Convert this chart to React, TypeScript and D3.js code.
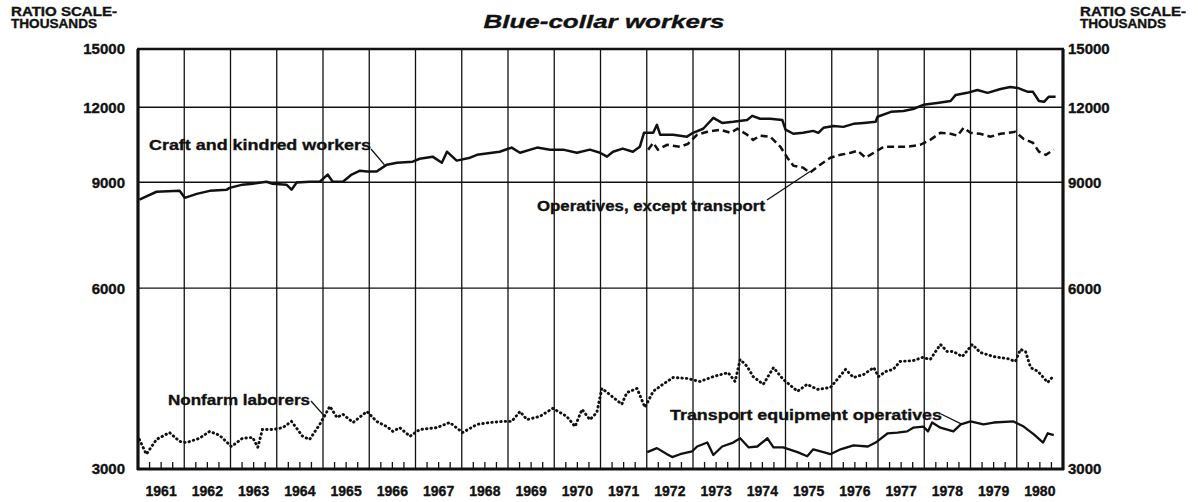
import React from 'react';
import * as d3 from 'd3';

const yearLabels = ['1961','1962','1963','1964','1965','1966','1967','1968','1969','1970','1971','1972','1973','1974','1975','1976','1977','1978','1979','1980'];
const yTicks = [15000, 12000, 9000, 6000, 3000];

const craft: [number, number][] = [
  [1961.03,8420],[1961.40,8680],[1961.90,8710],[1962.01,8480],[1962.27,8610],[1962.55,8710],[1962.92,8750],[1962.98,8810],
  [1963.26,8920],[1963.48,8950],[1963.78,9020],[1963.91,8950],[1964.21,8920],[1964.32,8750],[1964.43,8990],[1964.71,9020],
  [1964.93,9020],[1965.10,9270],[1965.21,9020],[1965.43,9020],[1965.62,9270],[1965.80,9410],[1965.95,9380],[1966.16,9380],
  [1966.38,9630],[1966.60,9700],[1966.94,9740],[1967.09,9850],[1967.37,9930],[1967.57,9700],[1967.68,10120],[1967.89,9780],
  [1968.18,9890],[1968.33,10000],[1968.82,10120],[1969.08,10280],[1969.26,10080],[1969.63,10280],[1969.91,10200],[1970.19,10200],
  [1970.49,10080],[1970.77,10200],[1970.99,10080],[1971.14,9930],[1971.27,10120],[1971.48,10240],[1971.70,10120],[1971.85,10310],
  [1971.94,10880],[1972.14,10880],[1972.22,11220],[1972.29,10800],[1972.57,10800],[1972.87,10720],[1973.00,10880],[1973.22,11050],
  [1973.44,11520],[1973.63,11300],[1973.87,11350],[1974.17,11430],[1974.28,11610],[1974.45,11480],[1974.67,11480],[1974.93,11430],
  [1975.00,11010],[1975.17,10840],[1975.38,10880],[1975.60,10960],[1975.71,10880],[1975.82,11090],[1976.04,11170],[1976.25,11130],
  [1976.47,11260],[1976.69,11300],[1976.95,11350],[1976.99,11570],[1977.28,11790],[1977.55,11830],[1977.76,11920],[1977.98,12110],
  [1978.28,12200],[1978.57,12290],[1978.68,12580],[1978.93,12680],[1979.15,12820],[1979.37,12680],[1979.65,12870],[1979.86,12970],
  [1980.02,12920],[1980.24,12730],[1980.35,12730],[1980.48,12290],[1980.59,12250],[1980.69,12490],[1980.84,12490]
];

const operatives: [number, number][] = [
  [1972.03,10200],[1972.14,10470],[1972.24,10200],[1972.44,10390],[1972.72,10310],[1972.89,10430],[1973.09,10800],[1973.31,10920],
  [1973.59,11010],[1973.81,10880],[1973.96,11050],[1974.17,10800],[1974.30,10590],[1974.45,10760],[1974.67,10720],[1974.89,10310],
  [1975.04,9890],[1975.17,9590],[1975.38,9520],[1975.53,9340],[1975.75,9630],[1975.97,9890],[1976.19,10000],[1976.41,10080],
  [1976.56,10160],[1976.73,9890],[1976.91,10080],[1977.12,10310],[1977.33,10310],[1977.63,10310],[1977.91,10390],[1978.13,10590],
  [1978.35,10880],[1978.57,10840],[1978.72,10760],[1978.85,11090],[1979.00,10880],[1979.21,10840],[1979.43,10720],[1979.65,10840],
  [1979.97,10920],[1980.15,10630],[1980.35,10470],[1980.48,10120],[1980.63,10000],[1980.80,10200]
];

const laborers: [number, number][] = [
  [1961.03,3360],[1961.18,3175],[1961.40,3360],[1961.68,3450],[1961.90,3335],[1962.05,3320],[1962.33,3375],[1962.55,3465],
  [1962.76,3415],[1963.02,3270],[1963.26,3375],[1963.48,3385],[1963.59,3260],[1963.69,3490],[1963.91,3490],[1964.13,3515],
  [1964.32,3600],[1964.56,3400],[1964.71,3360],[1964.93,3560],[1965.15,3815],[1965.30,3655],[1965.43,3700],[1965.65,3585],
  [1965.95,3740],[1966.16,3600],[1966.38,3530],[1966.51,3465],[1966.66,3515],[1966.88,3400],[1967.09,3490],[1967.46,3515],
  [1967.74,3585],[1968.02,3450],[1968.33,3560],[1968.61,3585],[1968.89,3600],[1969.08,3600],[1969.26,3740],[1969.41,3625],
  [1969.69,3670],[1969.97,3785],[1970.27,3670],[1970.45,3530],[1970.60,3770],[1970.77,3625],[1970.92,3725],[1971.03,4085],
  [1971.20,3990],[1971.46,3845],[1971.57,4020],[1971.79,4085],[1971.96,3800],[1972.14,4040],[1972.35,4150],[1972.57,4260],
  [1972.87,4245],[1973.15,4195],[1973.44,4275],[1973.76,4340],[1973.91,4195],[1974.02,4565],[1974.17,4445],[1974.30,4275],
  [1974.52,4150],[1974.74,4425],[1974.95,4230],[1975.26,4040],[1975.47,4150],[1975.69,4070],[1975.97,4100],[1976.12,4230],
  [1976.30,4395],[1976.47,4260],[1976.69,4310],[1976.91,4425],[1977.01,4275],[1977.17,4360],[1977.33,4395],[1977.48,4530],
  [1977.76,4545],[1977.96,4600],[1978.13,4565],[1978.35,4835],[1978.50,4705],[1978.63,4705],[1978.82,4615],[1979.04,4835],
  [1979.21,4690],[1979.50,4615],[1979.80,4580],[1979.97,4530],[1980.08,4745],[1980.19,4705],[1980.30,4425],[1980.46,4360],
  [1980.67,4180],[1980.78,4275]
];

const transport: [number, number][] = [
  [1972.01,3200],[1972.22,3250],[1972.44,3175],[1972.55,3140],[1972.72,3175],[1972.98,3210],[1973.09,3270],[1973.31,3320],
  [1973.44,3165],[1973.63,3270],[1973.87,3320],[1974.02,3375],[1974.20,3260],[1974.39,3270],[1974.61,3375],[1974.74,3260],
  [1974.95,3260],[1975.26,3200],[1975.47,3150],[1975.60,3235],[1975.82,3200],[1975.97,3175],[1976.19,3235],[1976.47,3285],
  [1976.78,3270],[1976.95,3320],[1977.21,3440],[1977.42,3450],[1977.63,3465],[1977.76,3515],[1977.98,3530],[1978.08,3465],
  [1978.17,3585],[1978.35,3515],[1978.63,3465],[1978.79,3560],[1979.00,3600],[1979.28,3560],[1979.50,3585],[1979.93,3600],
  [1980.15,3530],[1980.37,3425],[1980.57,3320],[1980.67,3440],[1980.80,3415]
];

const W = 1198, H = 502;
const L = 138, R = 1063, T = 49, B = 469;
const FONT = '"Liberation Sans", Arial, Helvetica, sans-serif';

export default function App() {
  const x = d3.scaleLinear().domain([1961, 1981]).range([L, R]);
  const y = d3.scaleLog().domain([3000, 15000]).range([B, T]);
  const line = d3.line<[number, number]>().x(d => x(d[0])).y(d => y(d[1])).curve(d3.curveLinear);

  const years = d3.range(1961, 1982);
  const quarters = d3.range(1961, 1981, 0.25).filter(q => q % 1 !== 0);
  const ink = '#111';
  const heavy = { stroke: ink, strokeWidth: 0.35 };

  return (
    <svg width={W} height={H} style={{ position: 'absolute', left: 0, top: 0, background: '#fff' }}
      fontFamily={FONT} fontWeight="bold">
      <rect x={0} y={0} width={W} height={H} fill="#fff" />
      {/* headers */}
      <text x={11} y={16} fontSize={12.5} textLength={106} lengthAdjust="spacingAndGlyphs" fill={ink} {...heavy}>RATIO SCALE-</text>
      <text x={11} y={28} fontSize={12.5} textLength={86} lengthAdjust="spacingAndGlyphs" fill={ink} {...heavy}>THOUSANDS</text>
      <text x={1080} y={16} fontSize={12.5} textLength={106} lengthAdjust="spacingAndGlyphs" fill={ink} {...heavy}>RATIO SCALE-</text>
      <text x={1080} y={28} fontSize={12.5} textLength={86} lengthAdjust="spacingAndGlyphs" fill={ink} {...heavy}>THOUSANDS</text>
      <text x={604} y={28} fontSize={19} fontStyle="italic" textAnchor="middle" textLength={241} lengthAdjust="spacingAndGlyphs" fill={ink} {...heavy}>Blue-collar workers</text>

      {/* grid */}
      {yTicks.filter(v => v !== 15000 && v !== 3000).map(v => (
        <line key={'h' + v} x1={L} x2={R} y1={y(v)} y2={y(v)} stroke={ink} strokeWidth={1.4} />
      ))}
      {years.slice(1, -1).map(yr => (
        <line key={'v' + yr} x1={x(yr)} x2={x(yr)} y1={T} y2={B} stroke={ink} strokeWidth={1.3} />
      ))}
      {quarters.map(q => (
        <line key={'q' + q} x1={x(q)} x2={x(q)} y1={B} y2={B - 7} stroke={ink} strokeWidth={1.3} />
      ))}

      {/* frame */}
      <line x1={L - 1} x2={R + 1} y1={T} y2={T} stroke={ink} strokeWidth={2.5} />
      <line x1={L - 1} x2={R + 1} y1={B} y2={B} stroke={ink} strokeWidth={3} />
      <line x1={L} x2={L} y1={T} y2={B + 1} stroke={ink} strokeWidth={3.2} />
      <line x1={R} x2={R} y1={T} y2={B + 1} stroke={ink} strokeWidth={3.2} />

      {/* y labels */}
      {yTicks.map(v => (
        <g key={'yl' + v}>
          <text x={125} y={y(v)} dy="0.36em" fontSize={15} textAnchor="end" fill={ink} {...heavy}>{v}</text>
          <text x={1068} y={y(v)} dy="0.36em" fontSize={15} textAnchor="start" fill={ink} {...heavy}>{v}</text>
        </g>
      ))}

      {/* x labels */}
      {yearLabels.map((lab, i) => (
        <text key={lab} x={x(1961 + i + 0.5)} y={496} fontSize={14} textAnchor="middle" fill={ink} {...heavy}>{lab}</text>
      ))}

      {/* series */}
      <path d={line(craft) || ''} fill="none" stroke={ink} strokeWidth={2.5} strokeLinejoin="round" />
      <path d={line(operatives) || ''} fill="none" stroke={ink} strokeWidth={2.5} strokeDasharray="7,4" />
      <path d={line(laborers) || ''} fill="none" stroke={ink} strokeWidth={2.9} strokeDasharray="0.5,4" strokeLinecap="round" />
      <path d={line(transport) || ''} fill="none" stroke={ink} strokeWidth={2.3} strokeLinejoin="round" />

      {/* annotations */}
      <text x={149} y={150} fontSize={15} textLength={222} lengthAdjust="spacingAndGlyphs" fill={ink} {...heavy}>Craft and kindred workers</text>
      <line x1={371} y1={149} x2={x(1966.33)} y2={y(9620)} stroke={ink} strokeWidth={1.3} />
      <text x={537} y={211} fontSize={15} textLength={228} lengthAdjust="spacingAndGlyphs" fill={ink} {...heavy}>Operatives, except transport</text>
      <line x1={767} y1={200} x2={x(1975.53)} y2={y(9380)} stroke={ink} strokeWidth={1.3} />
      <text x={168} y={405} fontSize={15} textLength={142} lengthAdjust="spacingAndGlyphs" fill={ink} {...heavy}>Nonfarm laborers</text>
      <line x1={311} y1={401} x2={x(1965.05)} y2={y(3660)} stroke={ink} strokeWidth={1.3} />
      <text x={670} y={420} fontSize={15} textLength={272} lengthAdjust="spacingAndGlyphs" fill={ink} {...heavy}>Transport equipment operatives</text>
      <line x1={941} y1={414} x2={x(1978.82)} y2={y(3560)} stroke={ink} strokeWidth={1.3} />
    </svg>
  );
}
